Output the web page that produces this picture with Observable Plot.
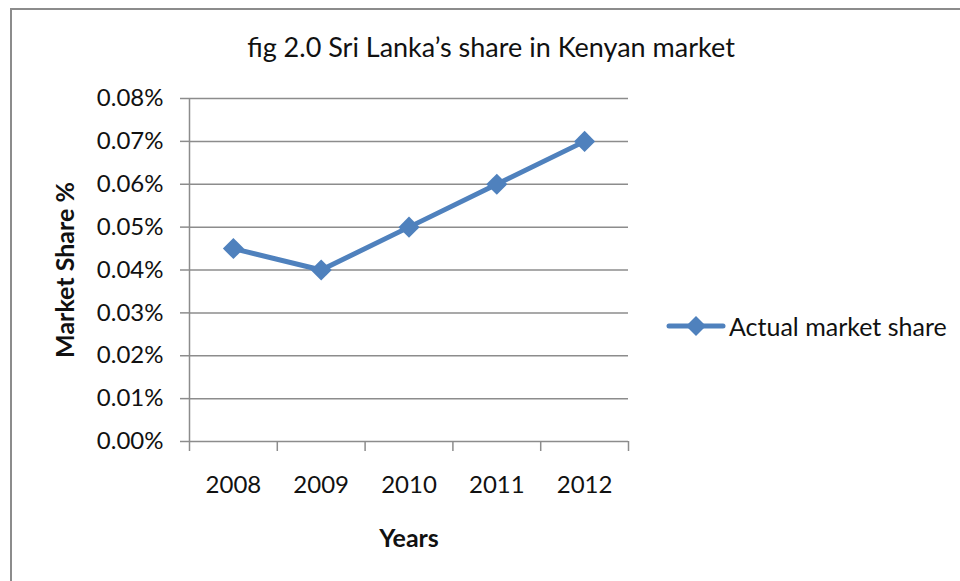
<!DOCTYPE html>
<html>
<head>
<meta charset="utf-8">
<script src="https://cdn.jsdelivr.net/npm/d3@7"></script>
<script src="https://cdn.jsdelivr.net/npm/@observablehq/plot@0.6"></script>
<style>
  html, body { margin: 0; padding: 0; background: #fff; }
  #wrap { position: relative; width: 960px; height: 581px; overflow: hidden; font-family: Lato, "Open Sans", sans-serif; }
  #frame { position: absolute; left: 10px; top: 8px; width: 1000px; height: 700px; border-left: 2px solid #8c8c8c; border-top: 2px solid #8c8c8c; box-sizing: border-box; pointer-events: none; }
  #title { position: absolute; left: 0; width: 982px; top: 31px; text-align: center; font-size: 27px; line-height: 32px; color: #111; }
  #legend { position: absolute; left: 666px; top: 312px; display: flex; align-items: center; font-size: 25px; line-height: 28px; color: #111; }
  #chart { position: absolute; left: 0; top: 0; }
</style>
</head>
<body>
<div id="wrap">
  <div id="chart"></div>
  <div id="frame"></div>
  <div id="title">fig 2.0 Sri Lanka’s share in Kenyan market</div>
  <div id="legend"><svg width="60" height="28"><line x1="3" y1="14" x2="57" y2="14" stroke="#4F81BD" stroke-width="5" stroke-linecap="round"/><path d="M30 4 L40 14 L30 24 L20 14 Z" fill="#4F81BD"/></svg><span style="margin-left:3px">Actual market share</span></div>
</div>
<script>
const years = [2008, 2009, 2010, 2011, 2012];
const shares = [0.045, 0.04, 0.05, 0.06, 0.07]; // percent
const yTicks = [0, 0.01, 0.02, 0.03, 0.04, 0.05, 0.06, 0.07, 0.08];
const seriesName = "Actual market share";

const data = years.map((y, i) => ({year: y, share: shares[i]}));
const boundaries = [years[0] - 0.5, ...years.map(y => y + 0.5)];
const gray = "#8c8c8c";
const blue = "#4F81BD";

const chart = Plot.plot({
  width: 960,
  height: 581,
  marginLeft: 189,
  marginRight: 332,
  marginTop: 98,
  marginBottom: 140,
  style: {fontFamily: "Lato, 'Open Sans', sans-serif", fontSize: "24px", color: "#111", background: "transparent"},
  x: {type: "linear", domain: [years[0] - 0.5, years[years.length - 1] + 0.5]},
  y: {domain: [0, 0.08]},
  marks: [
    Plot.ruleY(yTicks, {stroke: gray, strokeWidth: 1.5, strokeOpacity: 1}),
    Plot.ruleX([boundaries[0]], {y1: 0, y2: 0.08, stroke: gray, strokeWidth: 1.5}),
    Plot.axisY({ticks: yTicks, tickFormat: d => d.toFixed(2) + "%", tickSize: 9, tickPadding: 17, stroke: gray, strokeWidth: 1.5, strokeOpacity: 1, fontSize: 24, label: "Market Share %", labelAnchor: "center", labelArrow: "none", labelOffset: 133}),
    Plot.axisX({ticks: boundaries, tickFormat: () => "", tickSize: 10, stroke: gray, strokeWidth: 1.5, strokeOpacity: 1, label: null}),
    Plot.axisX({ticks: years, tickFormat: d => String(d), tickSize: 0, tickPadding: 34, fontSize: 24, label: "Years", labelAnchor: "center", labelArrow: "none", labelOffset: 105}),
    Plot.line(data, {x: "year", y: "share", stroke: blue, strokeWidth: 5, strokeLinejoin: "round"}),
    Plot.dot(data, {x: "year", y: "share", symbol: "diamond2", r: 9.5, fill: blue, stroke: "none"})
  ]
});
document.getElementById("chart").appendChild(chart);
chart.querySelectorAll("g[aria-label='y-axis label'] text, g[aria-label='x-axis label'] text").forEach(t => { t.style.fontWeight = "bold"; t.style.fontSize = "25px"; });
</script>
</body>
</html>
